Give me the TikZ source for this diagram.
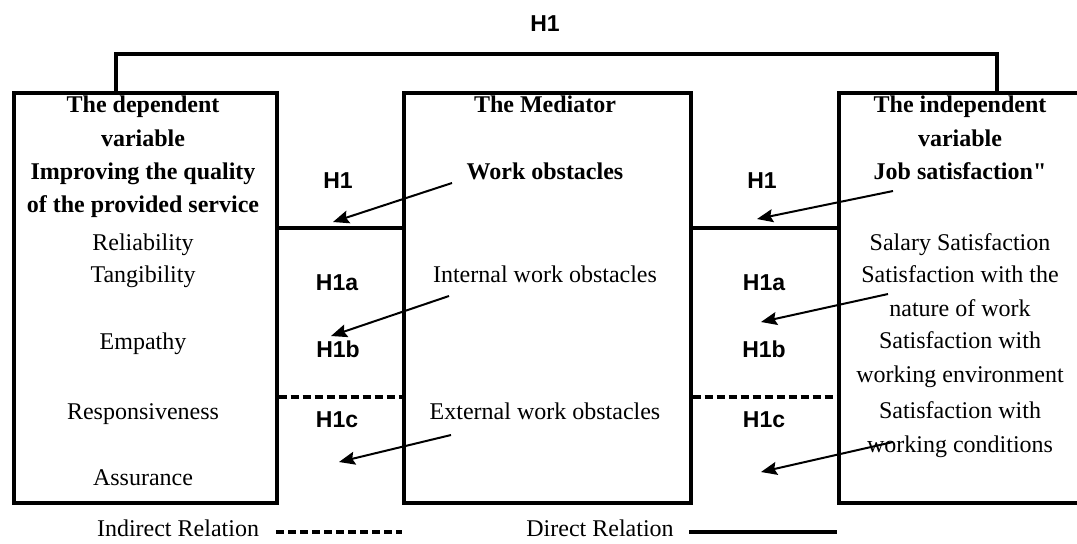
\documentclass[tikz,border=0pt]{standalone}
\usepackage{fontspec}
\setmainfont{Liberation Serif}
\newfontfamily\hfont{Liberation Sans}
\newfontfamily\nolig{Liberation Serif}[Ligatures=ResetAll]
\usetikzlibrary{arrows.meta}
\begin{document}
\begin{tikzpicture}[x=0.5pt,y=-0.5pt,
  box/.style={draw, line width=1.8pt, minimum height=205pt, anchor=north west, inner sep=0pt},
  txt/.style={font=\fontsize{12}{14}\selectfont, inner sep=0pt, text height=8pt, text depth=2.6pt},
  btxt/.style={txt, font=\fontsize{12}{14}\selectfont\bfseries},
  legtxt/.style={font=\fontsize{12}{14}\selectfont, inner sep=0pt, text height=8pt, text depth=2.6pt, anchor=base},
  hlab/.style={font=\fontsize{11.5}{13}\selectfont\hfont\bfseries, inner sep=0pt, text height=8.3pt, text depth=0pt},
  rel/.style={line width=1.8pt},
  indrel/.style={line width=1.8pt, dash pattern=on 4pt off 2pt},
  arr/.style={line width=1pt, -{Stealth[length=8pt,width=6.5pt,inset=1.2pt]}}]
\useasboundingbox (0,0) rectangle (1077,543);

% boxes
\node[box, minimum width=131.5pt] (L) at (12,91) {};
\node[box, minimum width=143.5pt] (M) at (402,91) {};
\node[box, minimum width=123pt] (R) at (837,91) {};

% top connection
\coordinate (tl) at (116,54);
\coordinate (tr) at (997,54);
\draw[rel] (L.north -| tl) -- (tl) -- (tr) -- (R.north -| tr);
\node[hlab] (htop) at (545,23) {H1};

% left box text
\node[btxt] (l1) at (143,107) {The dependent};
\node[btxt] (l2) at (143,141) {variable};
\node[btxt] (l3) at (143,174) {Improving the quality};
\node[btxt] (l4) at (143,207) {of the provided service};
\node[txt] (l5) at (143,245) {Reliability};
\node[txt] (l6) at (143,277) {Tangibility};
\node[txt] (l7) at (143,344) {Empathy};
\node[txt] (l8) at (143,414) {Responsiveness};
\node[txt] (l9) at (143,480) {Assurance};

% middle box text
\node[btxt] (m1) at (545,107) {The Mediator};
\node[btxt] (m2) at (545,174) {Work obstacles};
\node[txt] (m3) at (545,277) {Internal work obstacles};
\node[txt] (m4) at (545,414) {External work obstacles};

% right box text
\node[btxt] (r1) at (960,107) {The independent};
\node[btxt] (r2) at (960,141) {variable};
\node[btxt] (r3) at (960,174) {\nolig Job satisfaction"};
\node[txt] (r4) at (960,245) {Salary Satisfaction};
\node[txt] (r5) at (960,277) {Satisfaction with the};
\node[txt] (r6) at (960,311) {nature of work};
\node[txt] (r7) at (960,343) {Satisfaction with};
\node[txt] (r8) at (960,377) {working environment};
\node[txt] (r9) at (960,413) {Satisfaction with};
\node[txt] (r10) at (960,447) {working conditions};

% connecting lines between boxes
\coordinate (ys) at (0,228);
\coordinate (yd) at (0,397);
\draw[rel] (L.east |- ys) -- (M.west |- ys);
\draw[rel] (M.east |- ys) -- (R.west |- ys);
\draw[indrel] (L.east |- yd) -- (M.west |- yd);
\draw[indrel] (M.east |- yd) -- (R.west |- yd);

% hypothesis labels
\node[hlab] (hl1) at (338,180) {H1};
\node[hlab] (hl2) at (337,282) {H1a};
\node[hlab] (hl3) at (338,349) {H1b};
\node[hlab] (hl4) at (337,419) {H1c};
\node[hlab] (hr1) at (762,180) {H1};
\node[hlab] (hr2) at (764,282) {H1a};
\node[hlab] (hr3) at (764,349) {H1b};
\node[hlab] (hr4) at (764,419) {H1c};

% arrows
\coordinate (a1s) at (452,183); \coordinate (a1e) at (333,222);
\coordinate (a2s) at (449,296); \coordinate (a2e) at (331,336);
\coordinate (a3s) at (451,435); \coordinate (a3e) at (339,462);
\coordinate (a4s) at (893,191); \coordinate (a4e) at (757,219);
\coordinate (a5s) at (888,294); \coordinate (a5e) at (761,322);
\coordinate (a6s) at (893,442); \coordinate (a6e) at (761,472);
\draw[arr] (a1s) -- (a1e);
\draw[arr] (a2s) -- (a2e);
\draw[arr] (a3s) -- (a3e);
\draw[arr] (a4s) -- (a4e);
\draw[arr] (a5s) -- (a5e);
\draw[arr] (a6s) -- (a6e);

% legend
\node[legtxt] (ind) at (178,536.5) {Indirect Relation};
\node[legtxt] (dir) at (600,536.5) {Direct Relation};
\coordinate (i1) at (276,532); \coordinate (i2) at (402,532);
\coordinate (d1) at (689,532); \coordinate (d2) at (837,532);
\draw[indrel] (i1) -- (i2);
\draw[rel] (d1) -- (d2);
\end{tikzpicture}
\end{document}
